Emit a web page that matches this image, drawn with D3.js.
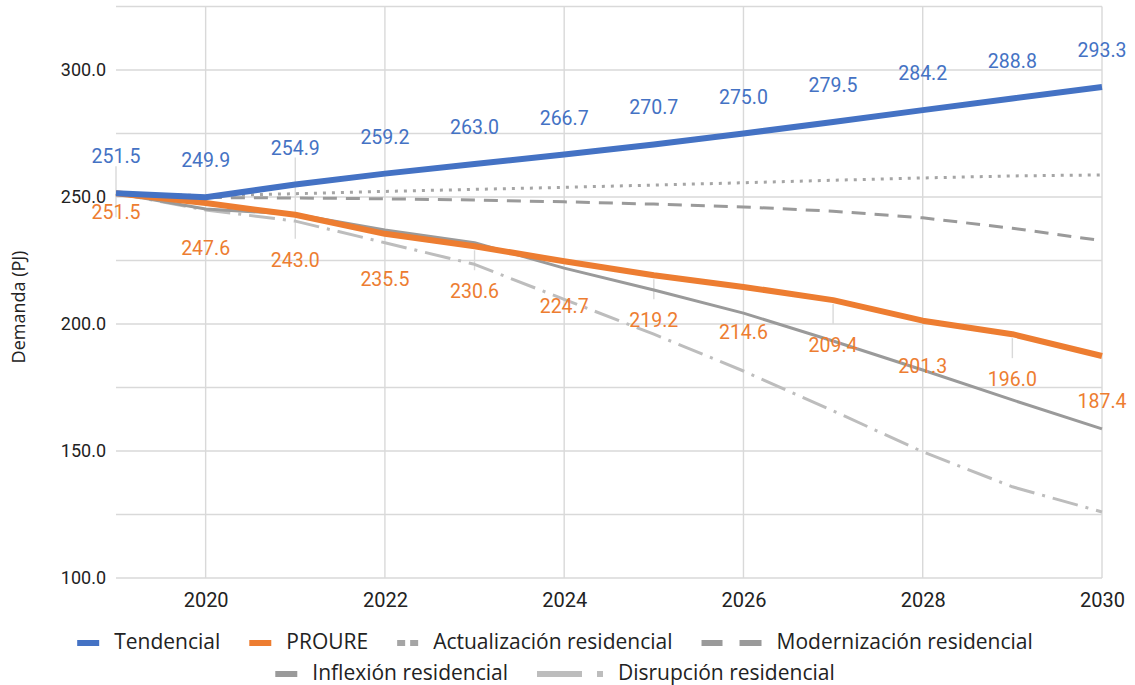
<!DOCTYPE html>
<html>
<head>
<meta charset="utf-8">
<script src="https://cdn.jsdelivr.net/npm/d3@7"></script>
<style>
  html, body { margin: 0; padding: 0; background: #fff; }
  svg { display: block; font-family: Roboto, "Noto Sans", sans-serif; }
</style>
</head>
<body>
<svg id="chart" width="1135" height="685"></svg>
<script>
const years = [2019, 2020, 2021, 2022, 2023, 2024, 2025, 2026, 2027, 2028, 2029, 2030];
const tendencial = [251.5, 249.9, 254.9, 259.2, 263.0, 266.7, 270.7, 275.0, 279.5, 284.2, 288.8, 293.3];
const proure = [251.5, 247.6, 243.0, 235.5, 230.6, 224.7, 219.2, 214.6, 209.4, 201.3, 196.0, 187.4];
const actualizacion = [251.5, 250.5, 251.3, 252.2, 253.0, 253.8, 254.7, 255.6, 256.6, 257.5, 258.3, 258.7];
const modernizacion = [251.5, 249.8, 249.6, 249.3, 248.8, 248.1, 247.2, 246.1, 244.4, 241.8, 237.7, 232.8];
const inflexion = [251.5, 245.3, 243.2, 237.0, 232.0, 222.0, 213.4, 204.3, 193.3, 181.9, 170.1, 158.7];
const disrupcion = [251.5, 244.9, 240.5, 232.0, 223.5, 209.7, 196.0, 181.5, 165.8, 149.7, 135.9, 126.0];
const yTickLabels = [100, 150, 200, 250, 300];
const xTickLabels = [2020, 2022, 2024, 2026, 2028, 2030];
const seriesNames = ["Tendencial", "PROURE", "Actualización residencial", "Modernización residencial", "Inflexión residencial", "Disrupción residencial"];
const yTitle = "Demanda (PJ)";

const svg = d3.select("#chart");
const x = d3.scaleLinear().domain([2019, 2030]).range([116, 1102]);
const y = d3.scaleLinear().domain([100, 325]).range([578, 6.5]);

const gridColor = "#d9d9d9";
svg.append("g").selectAll("line").data(d3.range(100, 326, 25)).join("line")
  .attr("x1", x(2019)).attr("x2", x(2030))
  .attr("y1", d => y(d)).attr("y2", d => y(d))
  .attr("stroke", gridColor).attr("stroke-width", 1.4);
svg.append("g").selectAll("line").data(xTickLabels).join("line")
  .attr("x1", d => x(d)).attr("x2", d => x(d))
  .attr("y1", y(325)).attr("y2", y(100))
  .attr("stroke", gridColor).attr("stroke-width", 1.4);
const odd = years.map((yr, i) => ({yr, i})).filter(d => d.yr % 2 === 1);
svg.append("g").selectAll("line").data(odd).join("line")
  .attr("x1", d => x(d.yr)).attr("x2", d => x(d.yr))
  .attr("y1", d => d.i < 3 ? y(tendencial[d.i]) - 27 : y(proure[d.i]) + 4)
  .attr("y2", d => y(proure[d.i]) + 24)
  .attr("stroke", gridColor).attr("stroke-width", 1.4);

const yAxis = d3.axisLeft(y).tickValues(yTickLabels).tickFormat(d3.format(".1f")).tickSize(0).tickPadding(10);
const gy = svg.append("g").attr("transform", `translate(${x(2019)},0)`).call(yAxis);
gy.select(".domain").remove();
gy.selectAll("text").attr("font-size", 18).attr("fill", "#222").attr("font-family", "Roboto, sans-serif");

const xAxis = d3.axisBottom(x).tickValues(xTickLabels).tickFormat(d3.format("d")).tickSize(0).tickPadding(15);
const gx = svg.append("g").attr("transform", `translate(0,${y(100)})`).call(xAxis);
gx.select(".domain").remove();
gx.selectAll("text").attr("font-size", 20).attr("fill", "#222").attr("font-family", "Roboto, sans-serif");

svg.append("text").attr("transform", `translate(25,307) rotate(-90)`)
  .attr("text-anchor", "middle").attr("font-size", 18).attr("fill", "#222")
  .attr("font-family", "'Open Sans', sans-serif").text(yTitle);

const styles = [
  {data: tendencial, color: "#4472c4", width: 6, dash: null},
  {data: proure, color: "#ed7d31", width: 6, dash: null},
  {data: actualizacion, color: "#a5a5a5", width: 3, dash: "3,6"},
  {data: modernizacion, color: "#9a9a9a", width: 3, dash: "14,9"},
  {data: inflexion, color: "#9a9a9a", width: 3, dash: null},
  {data: disrupcion, color: "#bdbdbd", width: 3, dash: "26,8,3,8"}
];
const line = d3.line().x((d, i) => x(years[i])).y(d => y(d));
[5, 4, 3, 2, 1, 0].forEach(k => {
  const s = styles[k];
  const p = svg.append("path").attr("d", line(s.data)).attr("fill", "none")
    .attr("stroke", s.color).attr("stroke-width", s.width).attr("stroke-linejoin", "round");
  if (s.dash) p.attr("stroke-dasharray", s.dash);
});

svg.append("g").selectAll("text").data(tendencial).join("text")
  .attr("x", (d, i) => x(years[i])).attr("y", d => y(d) - 30)
  .attr("text-anchor", "middle").attr("font-size", 19.5).attr("fill", "#4472c4")
  .text(d => d3.format(".1f")(d));
svg.append("g").selectAll("text").data(proure).join("text")
  .attr("x", (d, i) => x(years[i])).attr("y", (d, i) => y(d) + (i === 0 ? 26 : 52))
  .attr("text-anchor", "middle").attr("font-size", 19.5).attr("fill", "#ed7d31")
  .text(d => d3.format(".1f")(d));

// legend
function swatch(g, k) {
  const c = styles[k].color;
  const r = (x0, w) => g.append("rect").attr("x", x0).attr("y", -3).attr("width", w).attr("height", 6).attr("fill", c);
  if (k === 0 || k === 1 || k === 4) { r(0, 22); return 22; }
  if (k === 2) { r(0, 8); r(13, 8); return 21; }
  if (k === 3) { r(0, 21); r(38, 22); return 60; }
  r(0, 45); r(60, 6); return 66;
}
const rows = [[0, 1, 2, 3], [4, 5]];
const rowY = [643, 674];
const centerX = 555;
rows.forEach((row, r) => {
  const g = svg.append("g");
  let cx = 0;
  row.forEach(k => {
    const item = g.append("g").attr("transform", `translate(${cx},0)`);
    const w = swatch(item, k);
    const t = item.append("text").attr("x", w + 15).attr("y", 6).attr("font-size", 21)
      .attr("font-family", "'Open Sans', sans-serif").attr("fill", "#222").text(seriesNames[k]);
    cx += w + 15 + t.node().getComputedTextLength() + 29;
  });
  const total = cx - 29;
  g.attr("transform", `translate(${centerX - total / 2},${rowY[r]})`);
});
</script>
</body>
</html>
